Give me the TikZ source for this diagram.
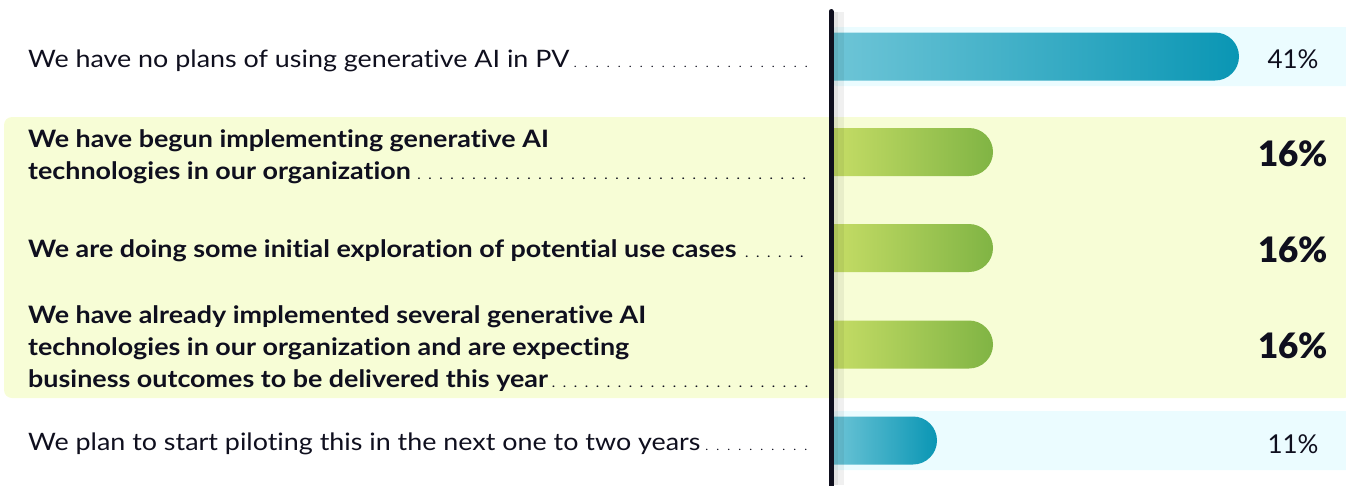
\documentclass[tikz,border=0pt]{standalone}
\usepackage{fontspec}
\setmainfont{Lato}
\newfontfamily\rowfont[FakeStretch=1.12, Ligatures=NoCommon]{Lato}
\newfontfamily\pctfont{Lato Black}
\definecolor{ink}{HTML}{0F0F1E}
\definecolor{bandcyan}{HTML}{EBFCFF}
\definecolor{bandgreen}{HTML}{F7FDD6}
\definecolor{cyanlt}{HTML}{6EC5D7}
\definecolor{cyandk}{HTML}{0A96B4}
\definecolor{greenlt}{HTML}{C6DD66}
\definecolor{greendk}{HTML}{80B444}
\newcommand{\leaderdots}{\cleaders\hbox to 11pt{\hss\fontsize{11}{11}\selectfont.\hss}\hskip 0pt plus 1fill}
\def\pctbar[#1](#2:#3){\shade[#1] (\xax,#2-24) [rounded corners=24pt] -- (#3,#2-24) -- (#3,#2+24) [sharp corners] -- (\xax,#2+24) -- cycle;}
\tikzset{
  rowtxt/.style={anchor=base west, inner sep=0pt, text=ink, font=\rowfont\fontsize{24}{32}\selectfont},
  rowbold/.style={rowtxt, font=\rowfont\fontsize{24}{32}\selectfont\bfseries},
  pct/.style={anchor=base, inner sep=0pt, text=ink, font=\fontsize{26}{30}\selectfont},
  pctbold/.style={pct, font=\pctfont\fontsize{35}{40}\selectfont}
}

\begin{document}
\begin{tikzpicture}[x=1pt,y=-1pt]
	%%%%% START %%%%%
	\def\xax{831}
	\def\xtxt{28}
	\def\xpct{1293}
	\def\wdots{784pt}
	\def\yone{56.5}
	\def\ytwo{152}
	\def\ythree{248}
	\def\yfour{344.5}
	\def\yfive{440.5}
	\useasboundingbox (0,0) rectangle (1346,485);

	% background bands
	\fill[bandcyan, rounded corners=6pt] (\xax,\yone-29.5) rectangle (1352,\yone+29.5);
	\fill[bandgreen, rounded corners=8pt] (4,117) rectangle (1352,398);
	\fill[bandcyan, rounded corners=6pt] (\xax,\yfive-29.5) rectangle (1352,\yfive+29.5);

	% bars
	\pctbar[left color=cyanlt, right color=cyandk](\yone:1239)
	\pctbar[left color=greenlt, right color=greendk](\ytwo:993)
	\pctbar[left color=greenlt, right color=greendk](\ythree:993)
	\pctbar[left color=greenlt, right color=greendk](\yfour:993)
	\pctbar[left color=cyanlt, right color=cyandk](\yfive:937)

	% axis with its shadow
	\fill[black, opacity=0.06] (833,12) rectangle (844,485);
	\fill[black, opacity=0.06] (833,12) rectangle (838,485);
	\draw[ink, line width=5pt, line cap=round] (\xax,11.5) -- (\xax,490);

	% answers
	\node[rowtxt] (t1) at (\xtxt,67) {\makebox[\wdots][l]{We have no plans of using generative AI in PV\leaderdots}};
	\node[rowbold] (t2a) at (\xtxt,147) {We have begun implementing generative AI};
	\node[rowbold] (t2b) at (\xtxt,179) {\makebox[\wdots][l]{technologies in our organization\leaderdots}};
	\node[rowbold] (t3) at (\xtxt,257) {\makebox[\wdots][l]{We are doing some initial exploration of potential use cases\leaderdots}};
	\node[rowbold] (t4a) at (\xtxt,323) {We have already implemented several generative AI};
	\node[rowbold] (t4b) at (\xtxt,355) {technologies in our organization and are expecting};
	\node[rowbold] (t4c) at (\xtxt,387) {\makebox[\wdots][l]{business outcomes to be delivered this year\leaderdots}};
	\node[rowtxt] (t5) at (\xtxt,450) {\makebox[\wdots][l]{We plan to start piloting this in the next one to two years\leaderdots}};

	% percentages
	\node[pct] (p1) at (\xpct,68) {41\%};
	\node[pctbold] (p2) at (\xpct,166) {16\%};
	\node[pctbold] (p3) at (\xpct,262) {16\%};
	\node[pctbold] (p4) at (\xpct,358) {16\%};
	\node[pct] (p5) at (\xpct,453) {11\%};
	%%%%% START %%%%%
\end{tikzpicture}
\end{document}
